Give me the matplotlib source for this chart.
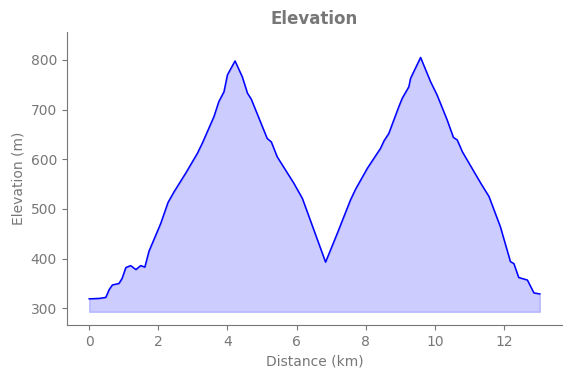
import matplotlib
matplotlib.use("Agg")
import matplotlib.pyplot as plt

distance_km = [0.0, 0.3, 0.48, 0.58, 0.67, 0.86, 0.95, 1.06, 1.2, 1.35, 1.49, 1.61, 1.73,
               2.07, 2.28, 2.45, 2.8, 3.13, 3.27, 3.61, 3.75, 3.9, 4.0, 4.22,
               4.43, 4.58, 4.69, 5.15, 5.27, 5.44, 5.92, 6.17, 6.5, 6.84,
               7.18, 7.56, 7.71, 8.05, 8.43, 8.53, 8.67, 8.96, 9.06, 9.25, 9.3, 9.59,
               9.88, 10.07, 10.36, 10.54, 10.65, 10.8, 11.33, 11.57, 11.9, 12.19, 12.29,
               12.43, 12.68, 12.87, 13.04]
elevation_m = [319, 320, 322, 338, 347, 350, 360, 382, 386, 378, 386, 383, 415,
               471, 513, 534, 573, 612, 632, 686, 716, 736, 770, 798,
               766, 733, 721, 642, 635, 605, 552, 521, 458, 393,
               451, 518, 540, 582, 622, 637, 652, 706, 723, 746, 763, 805,
               756, 729, 679, 644, 639, 615, 552, 525, 464, 394, 390,
               362, 357, 331, 329]
baseline_m = 293

grey = "#777777"
fig = plt.figure(figsize=(5.71, 3.78), dpi=100)
ax = fig.add_axes([0.1168, 0.1402, 0.868, 0.7744])
ax.plot(distance_km, elevation_m, color="blue", lw=1.1)
ax.fill_between(distance_km, elevation_m, baseline_m, color="blue", alpha=0.2)
ax.set_ylim(266.4, 855.7)
ax.set_xticks([0, 2, 4, 6, 8, 10, 12])
ax.set_yticks([300, 400, 500, 600, 700, 800])
ax.set_title("Elevation", fontweight="bold", color=grey, fontsize=12)
ax.set_xlabel("Distance (km)", color=grey)
ax.set_ylabel("Elevation (m)", color=grey)
for s in ["top", "right"]:
    ax.spines[s].set_visible(False)
for s in ["left", "bottom"]:
    ax.spines[s].set_color(grey)
ax.tick_params(colors=grey, labelcolor=grey)
fig.savefig("out.png", dpi=100)
